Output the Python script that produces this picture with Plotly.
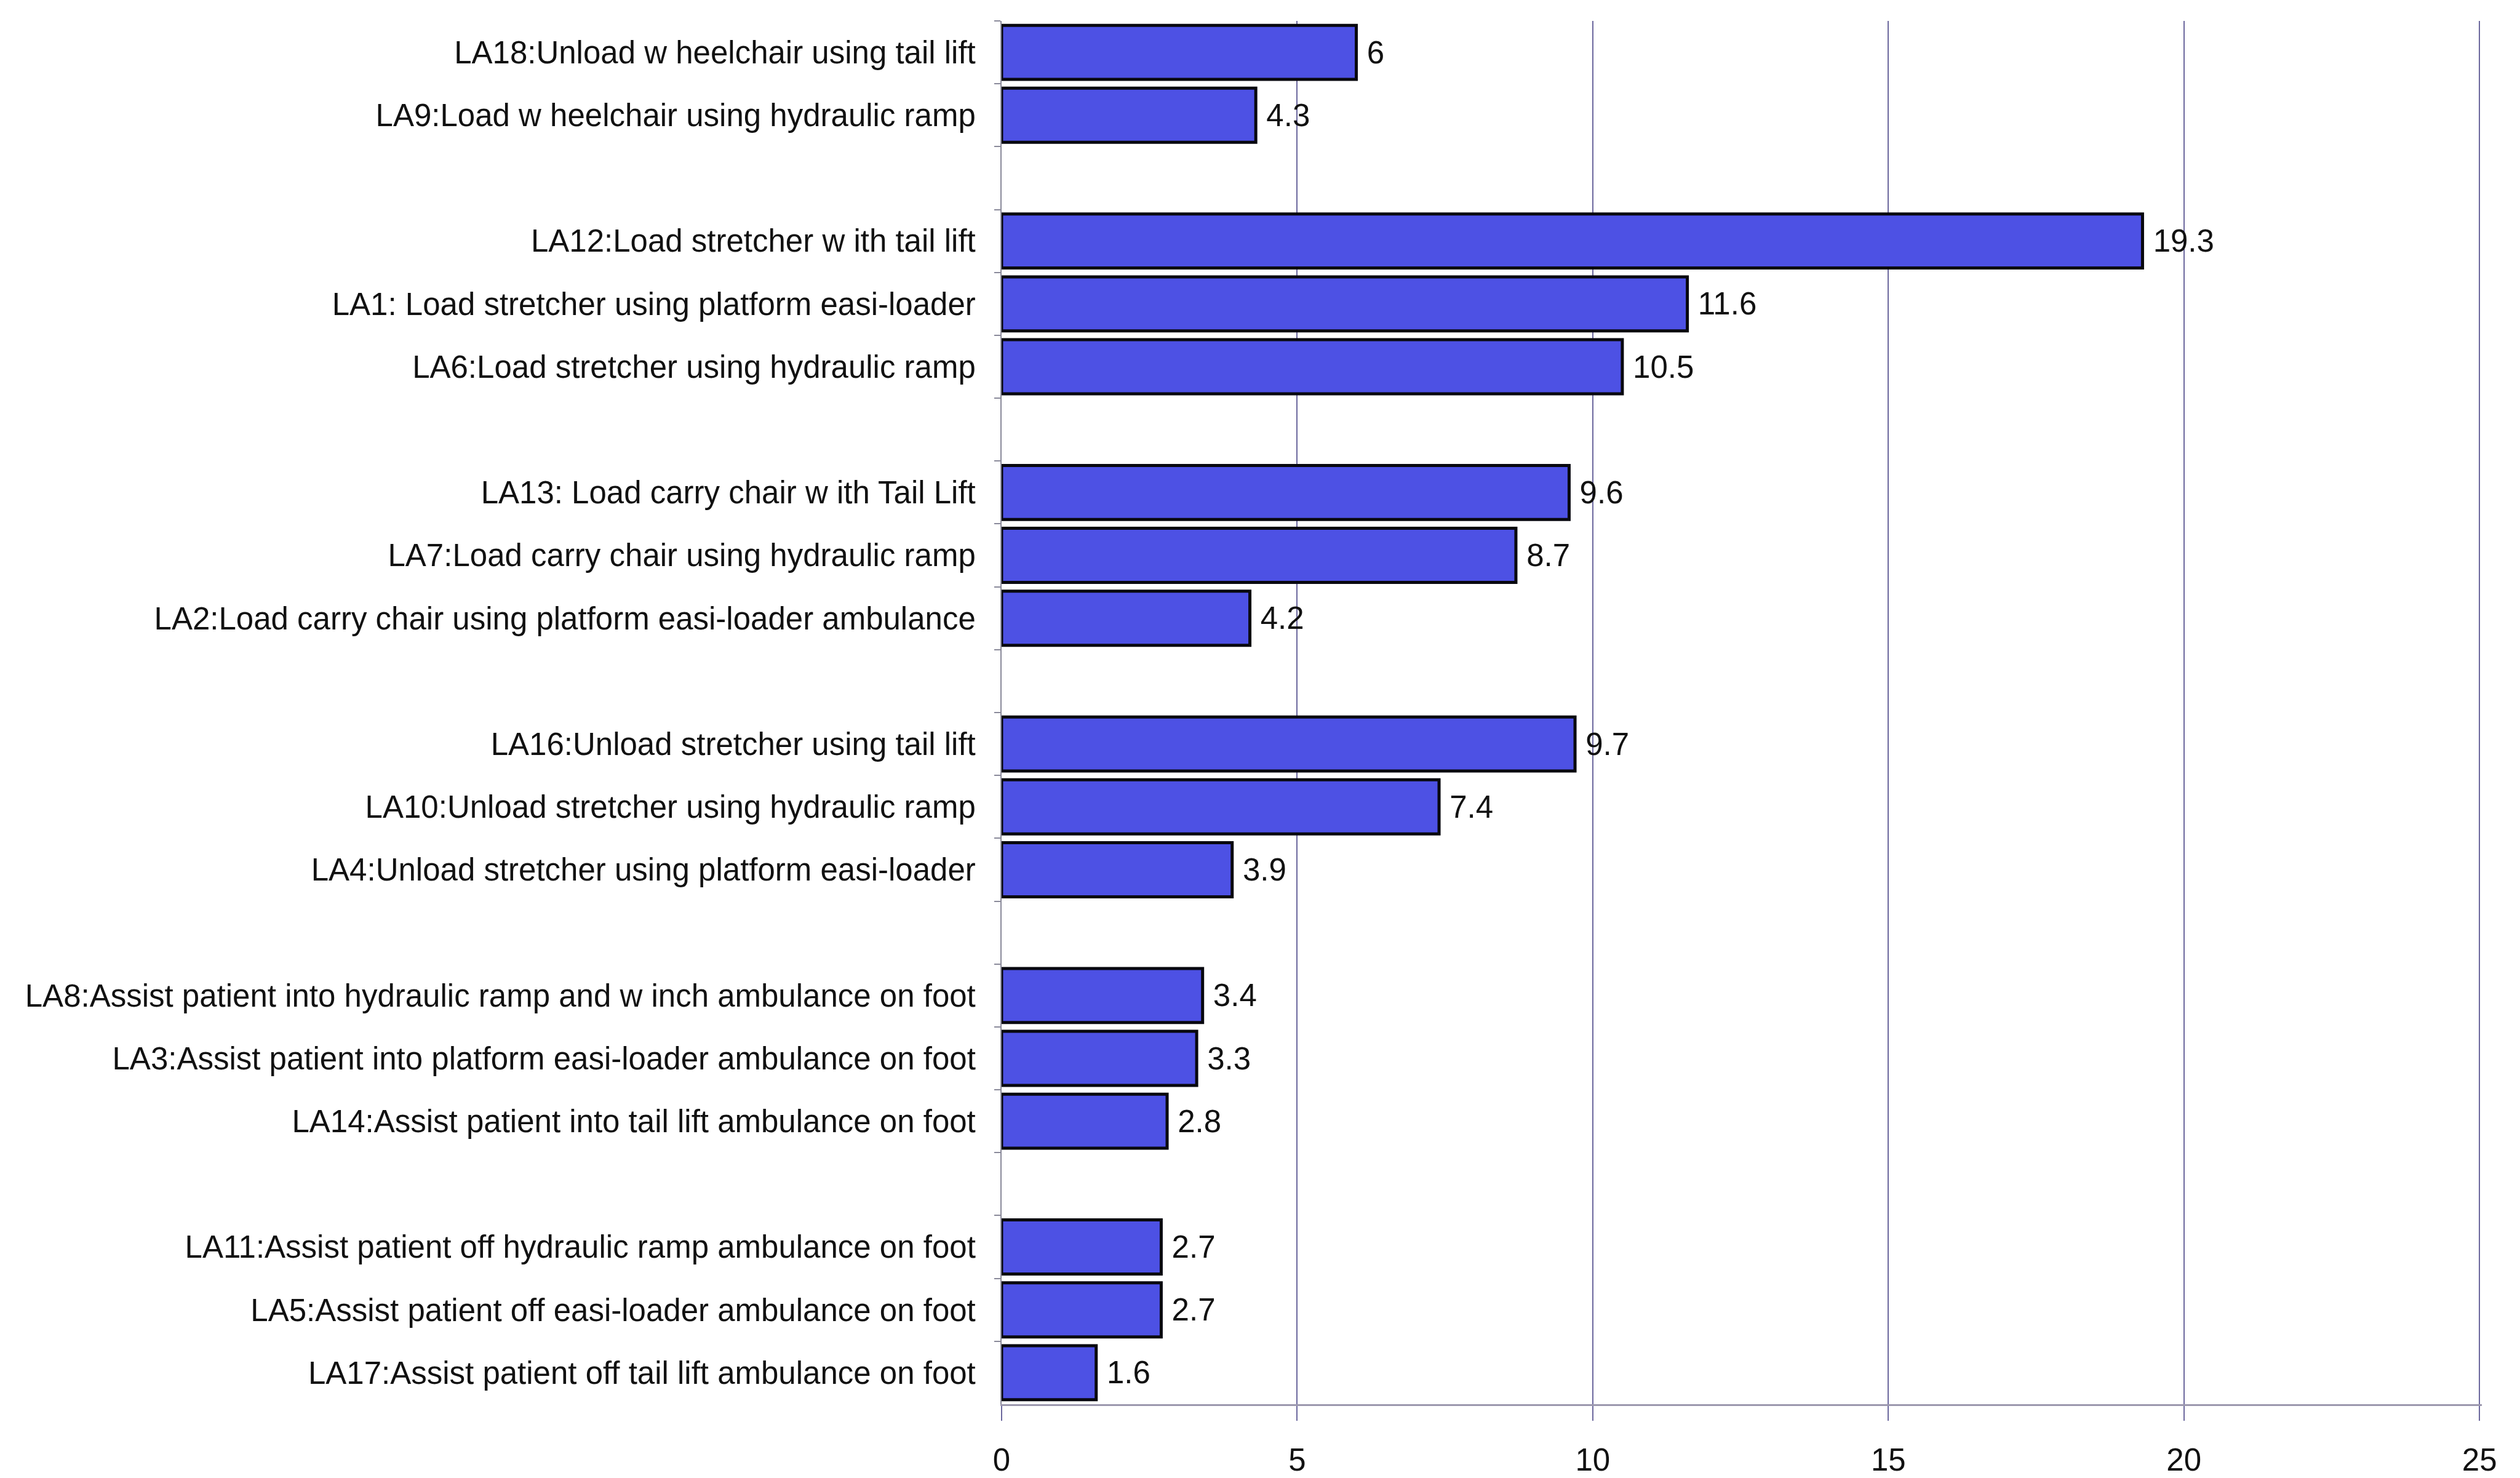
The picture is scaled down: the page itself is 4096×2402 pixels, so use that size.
import plotly.graph_objects as go

# Task labels, top to bottom, grouped by activity type
labels = [
    "LA18:Unload w heelchair using tail lift",
    "LA9:Load w heelchair using hydraulic ramp",
    "LA12:Load stretcher w ith tail lift",
    "LA1: Load stretcher using platform easi-loader",
    "LA6:Load stretcher using hydraulic ramp",
    "LA13: Load carry chair w ith Tail Lift",
    "LA7:Load carry chair using hydraulic ramp",
    "LA2:Load carry chair using platform easi-loader ambulance",
    "LA16:Unload stretcher using tail lift",
    "LA10:Unload stretcher using hydraulic ramp",
    "LA4:Unload stretcher using platform easi-loader",
    "LA8:Assist patient into hydraulic ramp and w inch ambulance on foot",
    "LA3:Assist patient into platform easi-loader ambulance on foot",
    "LA14:Assist patient into tail lift ambulance on foot",
    "LA11:Assist patient off hydraulic ramp ambulance on foot",
    "LA5:Assist patient off easi-loader ambulance on foot",
    "LA17:Assist patient off tail lift ambulance on foot",
]
values = [6, 4.3, 19.3, 11.6, 10.5, 9.6, 8.7, 4.2, 9.7, 7.4, 3.9,
          3.4, 3.3, 2.8, 2.7, 2.7, 1.6]
group_sizes = [2, 3, 3, 3, 3, 3]
x_ticks = [0, 5, 10, 15, 20, 25]

# Category order with an empty spacer row between groups
order = []
pos = 0
for gi, size in enumerate(group_sizes):
    order.extend(labels[pos:pos + size])
    pos += size
    if gi < len(group_sizes) - 1:
        order.append(" " * (gi + 1))

FONT = "Liberation Sans, Arial, sans-serif"
GRID = "#6c689e"

fig = go.Figure(
    go.Bar(
        x=values,
        y=labels,
        orientation="h",
        marker=dict(color="#4d51e4", line=dict(color="#08080f", width=5)),
        text=values,
        texttemplate=" %{x}",
        textposition="outside",
        constraintext="none",
        cliponaxis=False,
        textfont=dict(family=FONT, size=51, color="#111111"),
        hoverinfo="skip",
    )
)

fig.update_layout(
    width=4096,
    height=2402,
    margin=dict(l=1628, r=62, t=34, b=120),
    paper_bgcolor="white",
    plot_bgcolor="white",
    bargap=0.14,
    showlegend=False,
    font=dict(family=FONT, size=51, color="#111111"),
)

fig.update_xaxes(
    automargin=False,
    range=[0, 25.04],
    tickvals=x_ticks,
    ticktext=[str(v) for v in x_ticks],
    showgrid=True,
    gridcolor=GRID,
    gridwidth=2,
    zeroline=False,
    showline=True,
    linecolor="#9c98ae",
    linewidth=3,
    ticks="outside",
    ticklen=24,
    tickwidth=2,
    tickcolor=GRID,
    ticklabelstandoff=20,
    tickfont=dict(family=FONT, size=51, color="#111111"),
)

fig.update_yaxes(
    automargin=False,
    type="category",
    categoryorder="array",
    categoryarray=order,
    autorange="reversed",
    tickson="boundaries",
    ticks="outside",
    ticklen=10,
    tickwidth=2,
    tickcolor="#8a8a9a",
    showline=True,
    linecolor="#8a8a9a",
    linewidth=2,
    showgrid=False,
    ticklabelstandoff=30,
    tickfont=dict(family=FONT, size=51, color="#111111"),
)

fig.write_html("out.html")
